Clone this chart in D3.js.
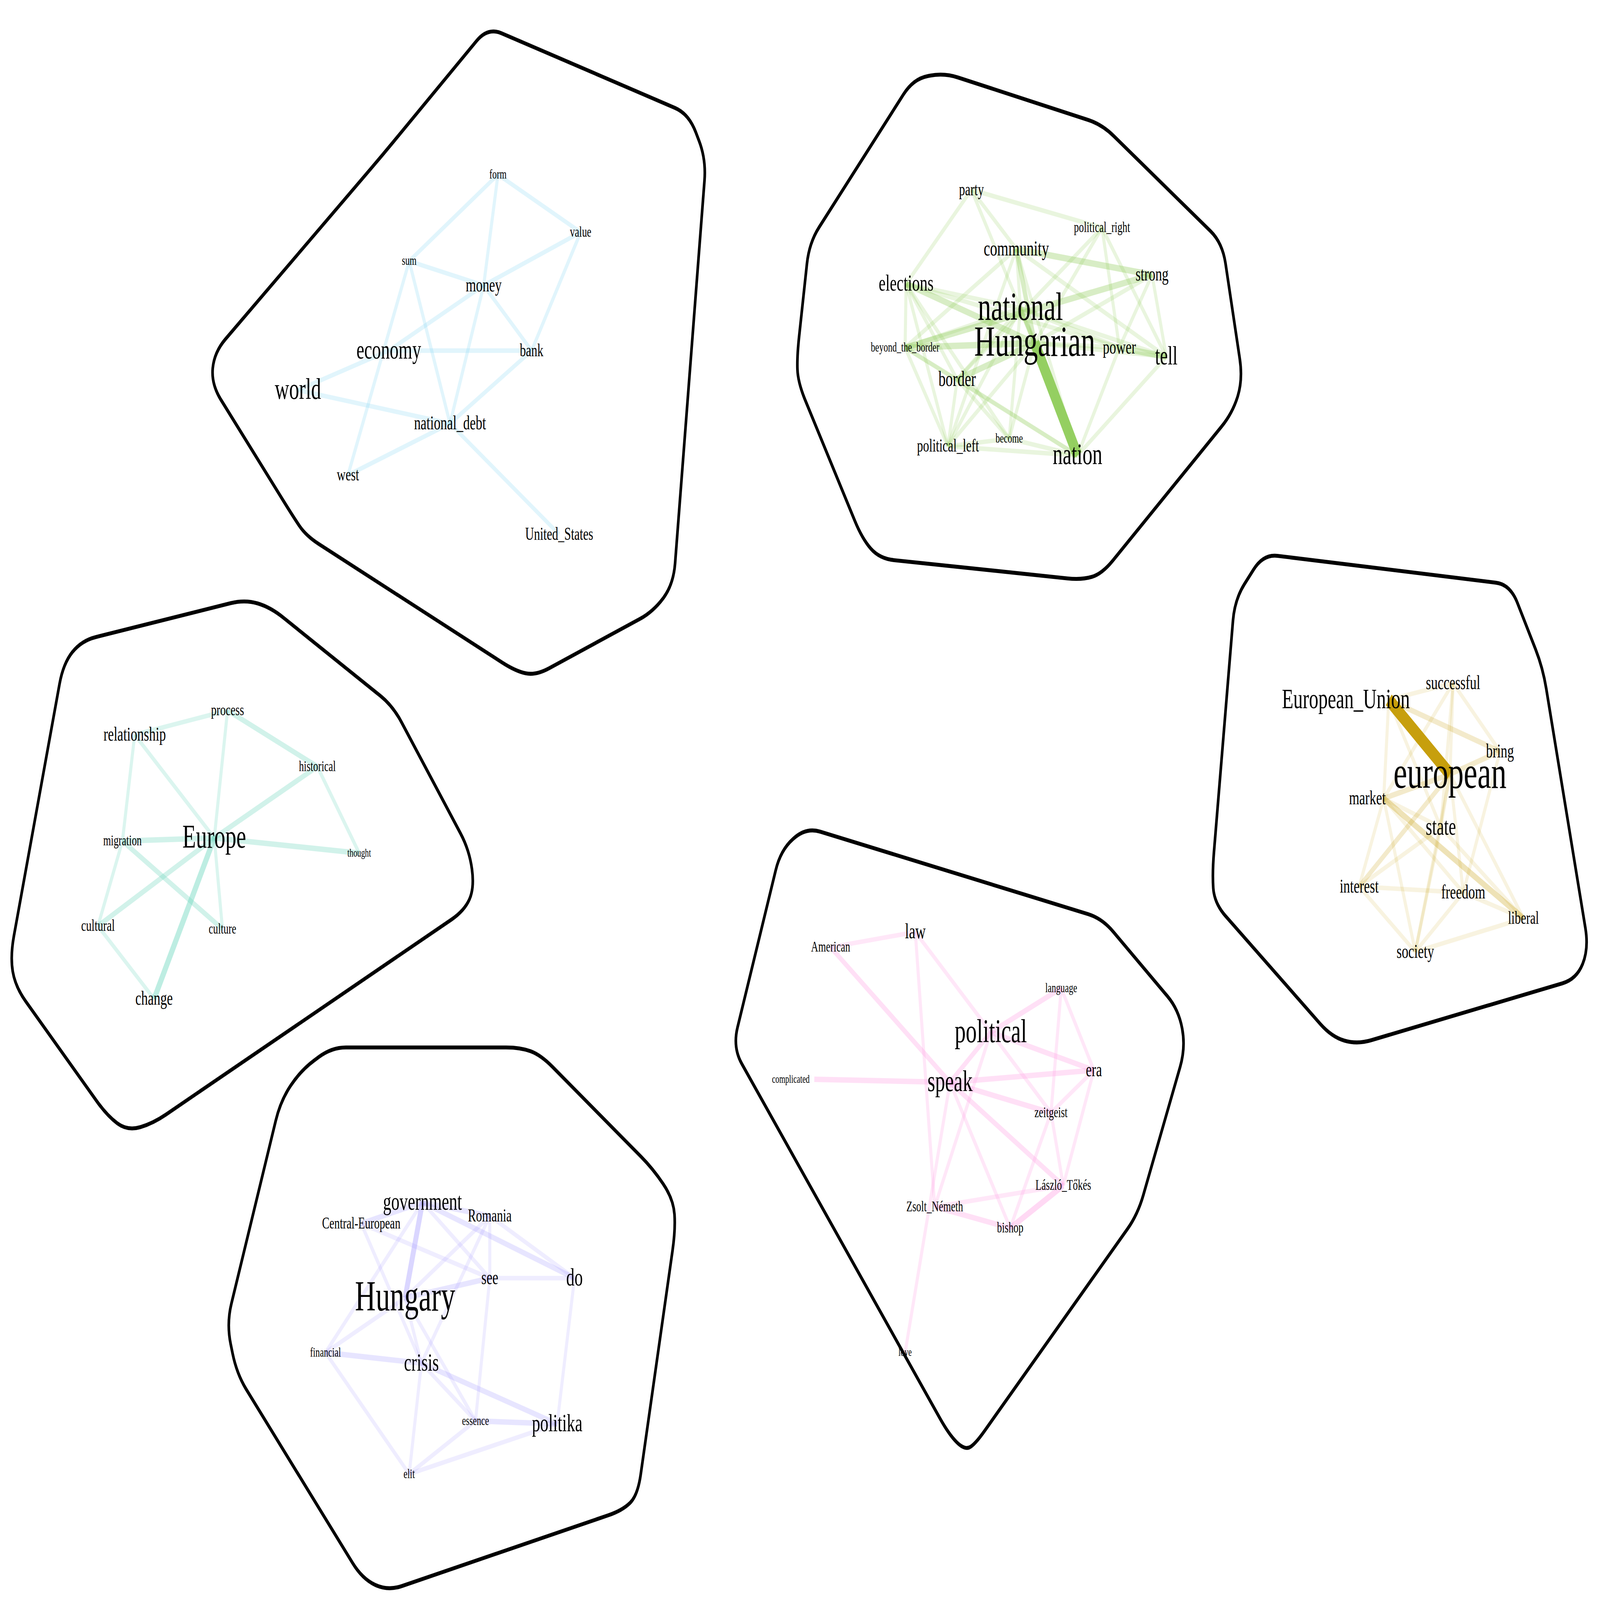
<!DOCTYPE html>
<html>
<head>
<meta charset="utf-8">
<script src="https://cdn.jsdelivr.net/npm/d3@7"></script>
<style>
  html, body { margin: 0; padding: 0; background: #fff; overflow: hidden; }
  svg { display: block; width: 100vw; height: 100vh; }
</style>
</head>
<body>
<svg id="chart"></svg>
<script>
// word network clusters, coordinates (1568 x 1054 reference units)
var W = 6333, H = 4258;

// [word, x, y, fontSize, labelDx]
var econNodes = [
  ["form", 488, 115, 8, 0], ["value", 569, 153, 9, 0], ["sum", 401, 172, 8, 0],
  ["money", 474, 188, 12, 0], ["economy", 381, 231, 16, 0], ["bank", 521, 231, 11, 0],
  ["world", 292, 257, 18, 0], ["national_debt", 441, 279, 12, 0], ["west", 341, 313, 11, 0],
  ["United_States", 548, 352, 11, 0]
];
var econEdges = [
  ["form","sum",1],["form","money",1],["form","value",1],["value","money",1],["value","bank",1],
  ["sum","money",1],["sum","west",1],["sum","national_debt",1],["money","economy",1],["money","bank",1],
  ["money","national_debt",1],["economy","bank",1],["economy","world",1],["world","national_debt",1],
  ["national_debt","bank",1],["national_debt","west",1],["national_debt","United_States",1]
];

var natNodes = [
  ["party", 952, 125, 11, 0], ["political_right", 1080, 150, 9, 0], ["community", 996, 164, 13, 0],
  ["strong", 1129, 181, 12, 0], ["elections", 888, 187, 14, 0], ["national", 1000, 203, 24, 0],
  ["Hungarian", 1014, 226, 26, 0], ["beyond_the_border", 887, 229, 8, 0], ["power", 1097, 229, 12, 0],
  ["tell", 1143, 235, 16, 0], ["border", 938, 250, 13, 0], ["political_left", 929, 294, 11, 0],
  ["become", 989, 289, 8, 0], ["nation", 1056, 300, 18, 0]
];
var natEdges = [
  ["party","political_right",1],["party","elections",1],["party","community",1],["party","Hungarian",1],
  ["political_right","tell",1],["political_right","power",1],["political_right","Hungarian",1],["political_right","border",1],
  ["community","strong",2],["community","Hungarian",2],["community","national",1],["community","nation",1],
  ["community","tell",1],["community","beyond_the_border",1],["community","political_left",1],
  ["strong","beyond_the_border",2],["strong","Hungarian",1],["strong","power",1],["strong","tell",1],
  ["elections","Hungarian",2],["elections","power",1],["elections","beyond_the_border",1],["elections","border",1],
  ["elections","political_left",1],["elections","national",1],["elections","become",1],
  ["beyond_the_border","Hungarian",2],["beyond_the_border","border",1],["beyond_the_border","national",1],
  ["beyond_the_border","political_left",1],["beyond_the_border","nation",1],
  ["border","Hungarian",2],["border","nation",1],["border","national",1],["border","political_left",1],["border","become",1],
  ["power","tell",2],["power","Hungarian",1],["power","nation",1],["power","national",1],
  ["tell","Hungarian",1],["tell","nation",1],["tell","national",1],
  ["political_left","nation",1],["political_left","become",1],["political_left","Hungarian",1],["political_left","national",1],
  ["become","nation",1],["become","Hungarian",1],["become","national",1],
  ["national","Hungarian",2],["national","nation",1],["Hungarian","nation",6]
];

var euNodes = [
  ["European_Union", 1361, 461, 17, -42], ["successful", 1424, 450, 12, 0], ["bring", 1470, 495, 12, 0],
  ["european", 1421, 510, 28, 0], ["market", 1356, 526, 12, -16], ["state", 1412, 545, 15, 0],
  ["interest", 1332, 584, 12, 0], ["freedom", 1434, 588, 12, 0], ["liberal", 1493, 605, 11, 0],
  ["society", 1387, 627, 12, 0]
];
var euEdges = [
  ["European_Union","european",6],["European_Union","successful",1],["European_Union","bring",1.5],
  ["European_Union","market",1],["European_Union","state",1],
  ["successful","european",1],["successful","state",1],["successful","bring",1],["successful","market",1],
  ["european","market",1.5],["european","state",1],["european","interest",1.5],["european","society",1],
  ["european","liberal",1],["european","bring",1.5],["european","freedom",1],
  ["market","state",1],["market","interest",1],["market","society",1],["market","liberal",2],["market","freedom",1],
  ["state","interest",1],["state","society",1],["state","liberal",1],
  ["interest","freedom",1],["interest","society",1],["freedom","society",1],["freedom","liberal",1],
  ["society","liberal",1],["bring","freedom",1]
];

var europeNodes = [
  ["process", 223, 468, 10, 0], ["relationship", 132, 484, 12, 0], ["historical", 311, 505, 9, 0],
  ["migration", 120, 554, 9, 0], ["Europe", 210, 552, 20, 0], ["thought", 352, 562, 7, 0],
  ["cultural", 96, 610, 10, 0], ["culture", 218, 612, 9, 0], ["change", 151, 658, 12, 0]
];
var europeEdges = [
  ["relationship","process",1],["process","historical",1.5],["process","Europe",1],["relationship","migration",1],
  ["relationship","Europe",1],["historical","Europe",1.5],["historical","thought",1],["Europe","thought",1.5],
  ["Europe","migration",1.5],["Europe","cultural",1.5],["Europe","change",2.5],["Europe","culture",1],
  ["migration","cultural",1],["migration","culture",1.5],["cultural","change",1]
];

var hunNodes = [
  ["government", 414, 792, 15, 0], ["Central-European", 354, 806, 10, 0], ["Romania", 480, 801, 11, 0],
  ["see", 480, 842, 12, 0], ["do", 563, 842, 15, 0], ["Hungary", 397, 855, 26, 0],
  ["financial", 319, 891, 8, 0], ["crisis", 413, 898, 15, 0], ["essence", 466, 936, 8, 0],
  ["politika", 546, 938, 15, 0], ["elit", 401, 971, 8, 0]
];
var hunEdges = [
  ["government","Romania",1.5],["government","Central-European",1.5],["government","Hungary",2.5],["government","see",1],
  ["government","do",1.5],["government","financial",1],["Central-European","crisis",1],["Central-European","see",1],
  ["Romania","see",1],["Romania","do",1],["Romania","Hungary",1],["Romania","crisis",1],
  ["Hungary","see",1.5],["Hungary","financial",1],["Hungary","crisis",1],["Hungary","essence",1],
  ["see","do",1],["see","essence",1],["do","politika",1],["financial","crisis",1.5],["financial","elit",1],
  ["crisis","essence",1],["crisis","politika",1.5],["crisis","elit",1],["essence","politika",1.5],
  ["essence","elit",1],["elit","politika",1]
];

var polNodes = [
  ["law", 897, 614, 13, 0], ["American", 814, 624, 9, 0], ["language", 1040, 651, 8, 0],
  ["political", 971, 680, 20, 0], ["complicated", 798, 711, 7, -23], ["speak", 931, 713, 18, 0],
  ["era", 1072, 705, 12, 0], ["zeitgeist", 1030, 733, 9, 0], ["László_Tőkés", 1042, 781, 9, 0],
  ["Zsolt_Németh", 916, 795, 9, 0], ["bishop", 990, 809, 9, 0], ["love", 887, 891, 7, 0]
];
var polEdges = [
  ["American","law",1],["American","speak",1.5],["law","Zsolt_Németh",1],["law","political",1],
  ["language","political",1.5],["language","zeitgeist",1],["language","era",1],["political","era",1.5],
  ["political","speak",1.5],["political","zeitgeist",1],["political","Zsolt_Németh",1],
  ["speak","complicated",1.5],["speak","era",1.5],["speak","zeitgeist",1.5],["speak","László_Tőkés",1.5],
  ["speak","bishop",1],["speak","love",1],["era","zeitgeist",1],["era","László_Tőkés",1],
  ["zeitgeist","László_Tőkés",1],["zeitgeist","bishop",1],["Zsolt_Németh","László_Tőkés",1],
  ["Zsolt_Németh","bishop",1.5],["bishop","László_Tőkés",2]
];

// hull outlines
var econHull = [[210,232],[375,102],[478,18],[675,75],[692,105],[660,385],[640,403],[525,445],[505,442],[300,353],[287,340],[207,253]];
var natHull = [[781,235],[793,160],[895,52],[925,48],[1080,82],[1198,160],[1218,250],[1208,272],[1080,378],[1060,382],[862,368],[845,355],[782,252]];
var euHull = [[1210,395],[1238,365],[1480,385],[1512,440],[1557,625],[1545,645],[1330,688],[1305,683],[1190,595],[1188,575]];
var europeHull = [[62,437],[80,422],[240,395],[265,400],[385,465],[460,560],[465,585],[455,600],[150,740],[125,745],[105,735],[15,650],[10,630]];
var hunHull = [[222,872],[275,725],[295,705],[325,690],[510,690],[530,695],[640,770],[660,790],[662,810],[625,985],[610,995],[380,1048],[355,1040],[232,905]];
var polHull = [[718,690],[765,560],[790,545],[1080,605],[1155,665],[1162,690],[1115,800],[955,952],[945,955],[930,945]];

var clusters = [
  {nodes: econNodes, edges: econEdges, hull: econHull, color: "#87d8f5", op: 0.25},
  {nodes: natNodes, edges: natEdges, hull: natHull, color: "#8fcc5a", op: 0.2},
  {nodes: euNodes, edges: euEdges, hull: euHull, color: "#c49a00", op: 0.12},
  {nodes: europeNodes, edges: europeEdges, hull: europeHull, color: "#6fd8bf", op: 0.25},
  {nodes: hunNodes, edges: hunEdges, hull: hunHull, color: "#a49cff", op: 0.18},
  {nodes: polNodes, edges: polEdges, hull: polHull, color: "#ff9ee3", op: 0.25}
];

var x = d3.scaleLinear().domain([0, 1568]).range([0, W]);
var y = d3.scaleLinear().domain([0, 1054]).range([0, H]);
var k = W / 1568;
var widthScale = d3.scaleLinear().domain([1, 6]).range([3 * k, 9 * k]);

var svg = d3.select("#chart")
  .attr("viewBox", "0 0 " + W + " " + H)
  .attr("preserveAspectRatio", "none");

// polygon with rounded corners
function roundedPath(pts, r) {
  var n = pts.length, out = [];
  for (var i = 0; i < n; i++) {
    var p = pts[i], a = pts[(i - 1 + n) % n], b = pts[(i + 1) % n];
    var da = Math.hypot(a[0] - p[0], a[1] - p[1]), db = Math.hypot(b[0] - p[0], b[1] - p[1]);
    var ta = Math.min(r / da, 0.5), tb = Math.min(r / db, 0.5);
    out.push([[p[0] + (a[0] - p[0]) * ta, p[1] + (a[1] - p[1]) * ta], p,
              [p[0] + (b[0] - p[0]) * tb, p[1] + (b[1] - p[1]) * tb]]);
  }
  var d = "M" + out[0][0];
  out.forEach(function(c) { d += "L" + c[0] + "Q" + c[1] + " " + c[2]; });
  return d + "Z";
}

clusters.forEach(function(c) {
  var g = svg.append("g");
  var pos = {};
  c.nodes.forEach(function(n) { pos[n[0]] = n; });
  var opScale = d3.scaleLinear().domain([1, 6]).range([c.op, 0.95]).clamp(true);

  g.append("path")
    .attr("d", roundedPath(c.hull.map(function(p) { return [x(p[0]), y(p[1])]; }), 14 * k))
    .attr("fill", "none")
    .attr("stroke", "#000")
    .attr("stroke-width", 2.6 * k)
    .attr("stroke-linejoin", "round");

  g.selectAll("line").data(c.edges).enter().append("line")
    .attr("x1", function(d) { return x(pos[d[0]][1]); })
    .attr("y1", function(d) { return y(pos[d[0]][2]); })
    .attr("x2", function(d) { return x(pos[d[1]][1]); })
    .attr("y2", function(d) { return y(pos[d[1]][2]); })
    .attr("stroke", c.color)
    .attr("stroke-opacity", function(d) { return opScale(d[2]); })
    .attr("stroke-width", function(d) { return widthScale(d[2]); });

  g.selectAll("text").data(c.nodes).enter().append("text")
    .attr("x", function(d) { return x(d[1] + d[4]); })
    .attr("y", function(d) { return y(d[2]); })
    .attr("text-anchor", "middle")
    .attr("dy", "0.3em")
    .style("font-family", "'Liberation Serif', 'DejaVu Serif', serif")
    .style("font-size", function(d) { return (d[3] * k * 1.08) + "px"; })
    .style("fill", "#000")
    .text(function(d) { return d[0]; });
});
</script>
</body>
</html>
